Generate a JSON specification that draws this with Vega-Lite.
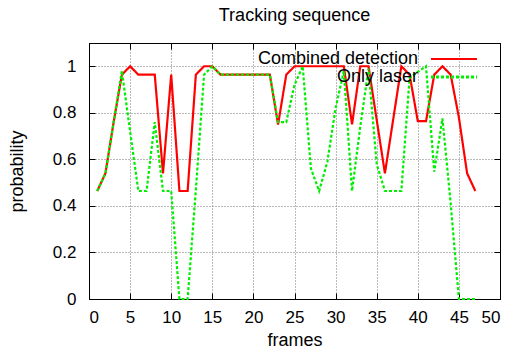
{
  "$schema": "https://vega.github.io/schema/vega-lite/v6.json",
  "width": 411,
  "height": 256,
  "autosize": {"type": "none"},
  "padding": {"left": 89, "top": 43, "right": 13, "bottom": 52},
  "title": {"text": "Tracking sequence", "fontSize": 18, "font": "Liberation Sans", "fontWeight": "normal", "color": "black", "anchor": "middle", "offset": 18},
  "config": {
    "view": {"stroke": "black", "strokeWidth": 1},
    "axis": {"labelFont": "Liberation Sans", "titleFont": "Liberation Sans", "labelColor": "black", "titleColor": "black", "titleFontWeight": "normal", "domainColor": "black", "tickColor": "black", "tickSize": -6}
  },
  "data": {"values": [
    {"frame": 1, "probability": 0.464, "series": "Combined detection"},
    {"frame": 2, "probability": 0.54, "series": "Combined detection"},
    {"frame": 3, "probability": 0.76, "series": "Combined detection"},
    {"frame": 4, "probability": 0.964, "series": "Combined detection"},
    {"frame": 5, "probability": 1.0, "series": "Combined detection"},
    {"frame": 6, "probability": 0.964, "series": "Combined detection"},
    {"frame": 7, "probability": 0.964, "series": "Combined detection"},
    {"frame": 8, "probability": 0.964, "series": "Combined detection"},
    {"frame": 9, "probability": 0.54, "series": "Combined detection"},
    {"frame": 10, "probability": 0.964, "series": "Combined detection"},
    {"frame": 11, "probability": 0.464, "series": "Combined detection"},
    {"frame": 12, "probability": 0.464, "series": "Combined detection"},
    {"frame": 13, "probability": 0.964, "series": "Combined detection"},
    {"frame": 14, "probability": 1.0, "series": "Combined detection"},
    {"frame": 15, "probability": 1.0, "series": "Combined detection"},
    {"frame": 16, "probability": 0.964, "series": "Combined detection"},
    {"frame": 17, "probability": 0.964, "series": "Combined detection"},
    {"frame": 18, "probability": 0.964, "series": "Combined detection"},
    {"frame": 19, "probability": 0.964, "series": "Combined detection"},
    {"frame": 20, "probability": 0.964, "series": "Combined detection"},
    {"frame": 21, "probability": 0.964, "series": "Combined detection"},
    {"frame": 22, "probability": 0.964, "series": "Combined detection"},
    {"frame": 23, "probability": 0.75, "series": "Combined detection"},
    {"frame": 24, "probability": 0.964, "series": "Combined detection"},
    {"frame": 25, "probability": 1.0, "series": "Combined detection"},
    {"frame": 26, "probability": 1.0, "series": "Combined detection"},
    {"frame": 27, "probability": 1.0, "series": "Combined detection"},
    {"frame": 28, "probability": 1.0, "series": "Combined detection"},
    {"frame": 29, "probability": 1.0, "series": "Combined detection"},
    {"frame": 30, "probability": 1.0, "series": "Combined detection"},
    {"frame": 31, "probability": 1.0, "series": "Combined detection"},
    {"frame": 32, "probability": 0.75, "series": "Combined detection"},
    {"frame": 33, "probability": 1.0, "series": "Combined detection"},
    {"frame": 34, "probability": 1.0, "series": "Combined detection"},
    {"frame": 35, "probability": 0.77, "series": "Combined detection"},
    {"frame": 36, "probability": 0.54, "series": "Combined detection"},
    {"frame": 37, "probability": 0.77, "series": "Combined detection"},
    {"frame": 38, "probability": 1.0, "series": "Combined detection"},
    {"frame": 39, "probability": 0.964, "series": "Combined detection"},
    {"frame": 40, "probability": 0.764, "series": "Combined detection"},
    {"frame": 41, "probability": 0.764, "series": "Combined detection"},
    {"frame": 42, "probability": 0.964, "series": "Combined detection"},
    {"frame": 43, "probability": 1.0, "series": "Combined detection"},
    {"frame": 44, "probability": 0.964, "series": "Combined detection"},
    {"frame": 45, "probability": 0.78, "series": "Combined detection"},
    {"frame": 46, "probability": 0.54, "series": "Combined detection"},
    {"frame": 47, "probability": 0.464, "series": "Combined detection"},
    {"frame": 1, "probability": 0.464, "series": "Only laser"},
    {"frame": 2, "probability": 0.54, "series": "Only laser"},
    {"frame": 3, "probability": 0.76, "series": "Only laser"},
    {"frame": 4, "probability": 0.98, "series": "Only laser"},
    {"frame": 5, "probability": 0.72, "series": "Only laser"},
    {"frame": 6, "probability": 0.464, "series": "Only laser"},
    {"frame": 7, "probability": 0.464, "series": "Only laser"},
    {"frame": 8, "probability": 0.76, "series": "Only laser"},
    {"frame": 9, "probability": 0.464, "series": "Only laser"},
    {"frame": 10, "probability": 0.464, "series": "Only laser"},
    {"frame": 11, "probability": 0.0, "series": "Only laser"},
    {"frame": 12, "probability": 0.0, "series": "Only laser"},
    {"frame": 13, "probability": 0.47, "series": "Only laser"},
    {"frame": 14, "probability": 0.964, "series": "Only laser"},
    {"frame": 15, "probability": 1.0, "series": "Only laser"},
    {"frame": 16, "probability": 0.964, "series": "Only laser"},
    {"frame": 17, "probability": 0.964, "series": "Only laser"},
    {"frame": 18, "probability": 0.964, "series": "Only laser"},
    {"frame": 19, "probability": 0.964, "series": "Only laser"},
    {"frame": 20, "probability": 0.964, "series": "Only laser"},
    {"frame": 21, "probability": 0.964, "series": "Only laser"},
    {"frame": 22, "probability": 0.964, "series": "Only laser"},
    {"frame": 23, "probability": 0.76, "series": "Only laser"},
    {"frame": 24, "probability": 0.76, "series": "Only laser"},
    {"frame": 25, "probability": 0.92, "series": "Only laser"},
    {"frame": 26, "probability": 1.0, "series": "Only laser"},
    {"frame": 27, "probability": 0.56, "series": "Only laser"},
    {"frame": 28, "probability": 0.464, "series": "Only laser"},
    {"frame": 29, "probability": 0.59, "series": "Only laser"},
    {"frame": 30, "probability": 0.82, "series": "Only laser"},
    {"frame": 31, "probability": 0.98, "series": "Only laser"},
    {"frame": 32, "probability": 0.464, "series": "Only laser"},
    {"frame": 33, "probability": 0.74, "series": "Only laser"},
    {"frame": 34, "probability": 0.99, "series": "Only laser"},
    {"frame": 35, "probability": 0.58, "series": "Only laser"},
    {"frame": 36, "probability": 0.464, "series": "Only laser"},
    {"frame": 37, "probability": 0.464, "series": "Only laser"},
    {"frame": 38, "probability": 0.464, "series": "Only laser"},
    {"frame": 39, "probability": 0.95, "series": "Only laser"},
    {"frame": 40, "probability": 0.976, "series": "Only laser"},
    {"frame": 41, "probability": 1.0, "series": "Only laser"},
    {"frame": 42, "probability": 0.547, "series": "Only laser"},
    {"frame": 43, "probability": 0.776, "series": "Only laser"},
    {"frame": 44, "probability": 0.41, "series": "Only laser"},
    {"frame": 45, "probability": 0.0, "series": "Only laser"},
    {"frame": 46, "probability": 0.0, "series": "Only laser"},
    {"frame": 47, "probability": 0.0, "series": "Only laser"}
  ]},
  "layer": [
    {
      "mark": {"type": "line", "strokeWidth": 2.2},
      "encoding": {
        "x": {"field": "frame", "type": "quantitative", "scale": {"domain": [0, 50], "nice": false},
          "axis": {"orient": "bottom", "values": [0, 5, 10, 15, 20, 25, 30, 35, 40, 45, 50], "format": "d", "grid": true, "gridColor": "#777777", "gridDash": [1, 2], "labelFontSize": 17, "labelPadding": 16, "title": "frames", "titleFontSize": 18, "titlePadding": 6}},
        "y": {"field": "probability", "type": "quantitative", "scale": {"domain": [0, 1.1], "nice": false},
          "axis": {"orient": "left", "values": [0, 0.2, 0.4, 0.6, 0.8, 1], "format": "~g", "grid": true, "gridColor": "#777777", "gridDash": [1, 2], "labelFontSize": 17, "labelPadding": 19, "title": "probability", "titleFontSize": 18, "titlePadding": 26}},
        "color": {"field": "series", "type": "nominal",
          "scale": {"domain": ["Combined detection", "Only laser"], "range": ["#ff0000", "#00ee00"]},
          "legend": {"title": null, "orient": "none", "legendX": 356, "legendY": 7, "symbolType": "M-4,0H4", "symbolSize": 132, "symbolStrokeWidth": 2.5, "labelAlign": "right", "labelOffset": -45, "labelFontSize": 18, "labelFont": "Liberation Sans", "labelColor": "black", "rowPadding": 0, "padding": 0, "labelLimit": 400}},
        "strokeDash": {"field": "series", "type": "nominal",
          "scale": {"domain": ["Combined detection", "Only laser"], "range": [[1, 0], [3, 2]]},
          "legend": {"title": null, "orient": "none", "legendX": 356, "legendY": 7, "symbolType": "M-4,0H4", "symbolSize": 132, "symbolStrokeWidth": 2.5, "labelAlign": "right", "labelOffset": -45, "labelFontSize": 18, "labelFont": "Liberation Sans", "labelColor": "black", "rowPadding": 0, "padding": 0, "labelLimit": 400}},
        "strokeWidth": {"field": "series", "type": "nominal", "scale": {"domain": ["Combined detection", "Only laser"], "range": [2.2, 2.8]}, "legend": null}
      }
    },
    {
      "mark": {"type": "line", "opacity": 0},
      "encoding": {
        "x": {"field": "frame", "type": "quantitative", "axis": {"orient": "top", "values": [0, 5, 10, 15, 20, 25, 30, 35, 40, 45, 50], "labels": false, "title": null, "grid": false}},
        "y": {"field": "probability", "type": "quantitative", "axis": {"orient": "right", "values": [0, 0.2, 0.4, 0.6, 0.8, 1], "labels": false, "title": null, "grid": false}}
      }
    }
  ]
}
